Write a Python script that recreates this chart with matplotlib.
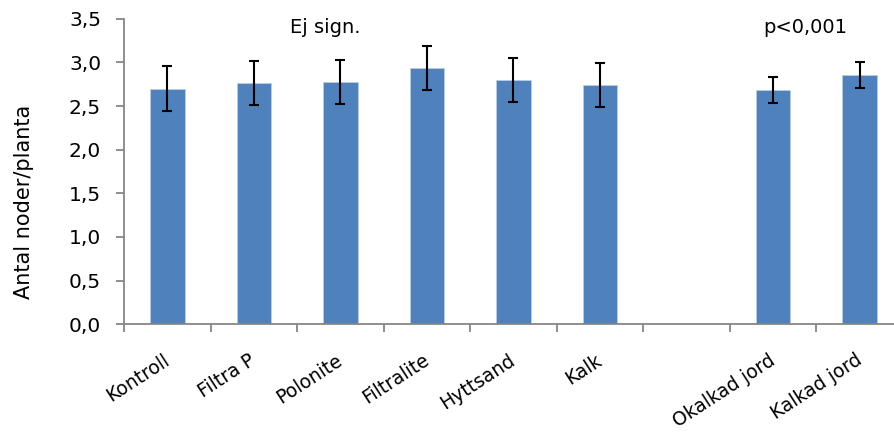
import matplotlib
matplotlib.use("Agg")
import matplotlib.pyplot as plt
import matplotlib.transforms as mtransforms
import numpy as np

categories = ["Kontroll", "Filtra P", "Polonite", "Filtralite", "Hyttsand", "Kalk", "", "Okalkad jord", "Kalkad jord"]
values = [2.70, 2.76, 2.775, 2.935, 2.80, 2.74, np.nan, 2.687, 2.86]
errors = [0.255, 0.25, 0.255, 0.256, 0.254, 0.255, np.nan, 0.148, 0.148]
yticks = [0.0, 0.5, 1.0, 1.5, 2.0, 2.5, 3.0, 3.5]

plt.rcParams['font.family'] = ['DejaVu Sans']

fig = plt.figure(figsize=(8.95, 4.32), dpi=100)
ax = fig.add_axes([124/895, 1-324.3/432, 779/895, (324.3-18.7)/432])

x = np.arange(len(categories))
ax.bar(x, values, width=0.4, color="#4F81BD", edgecolor="#B9CDE5", linewidth=0.6, zorder=2)
ax.errorbar(x, values, yerr=errors, fmt="none", ecolor="black", elinewidth=1.5,
            capsize=3.5, capthick=1.5, zorder=3)

ax.set_xlim(-0.5, len(categories) - 0.5)
ax.set_ylim(0, 3.5)
ax.set_yticks(yticks)
ax.set_yticklabels([f"{v:.1f}".replace(".", ",") for v in yticks], fontsize=14.5)
ax.set_xticks(np.arange(len(categories) + 1) - 0.5, minor=False)
ax.set_xticklabels([])
ax.set_xticks(x, minor=True)
ax.set_xticklabels(categories, minor=True, rotation=33, ha="right", va="top",
                   rotation_mode="anchor", fontsize=13.5)
ax.tick_params(axis="x", which="minor", length=0, pad=19)
ax.tick_params(axis="x", which="major", length=6, width=1.3, color="#868686", direction="out")
ax.tick_params(axis="y", length=5.5, width=1.3, color="#868686", direction="out", pad=11)

offset = mtransforms.ScaledTranslation(-5/100, 0, fig.dpi_scale_trans)
for lab in ax.get_xticklabels(minor=True):
    lab.set_transform(lab.get_transform() + offset)

for s in ["top", "right"]:
    ax.spines[s].set_visible(False)
for s in ["left", "bottom"]:
    ax.spines[s].set_color("#868686")
    ax.spines[s].set_linewidth(1.3)

fig.text(24/895, 1-201.5/432, "Antal noder/planta", fontsize=15, rotation=90,
         ha="center", va="center")

ax.text(1.82, 3.333, "Ej sign.", fontsize=14, ha="center", va="baseline")
ax.text(7.37, 3.333, "p<0,001", fontsize=14, ha="center", va="baseline")

fig.savefig("out.png", dpi=100)
